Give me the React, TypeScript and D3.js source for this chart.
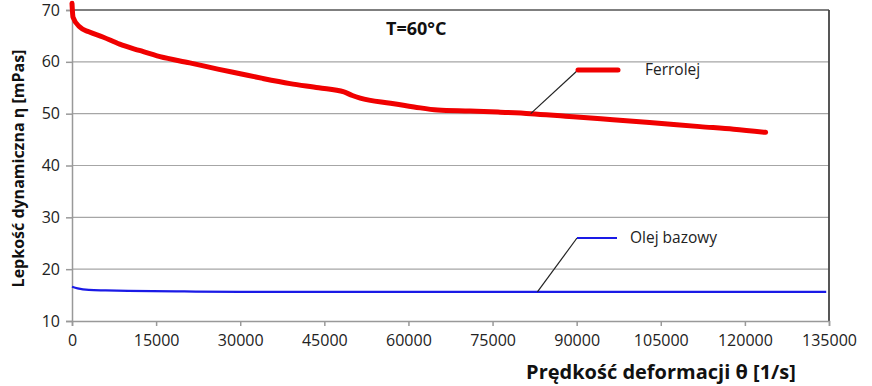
import * as React from 'react'
import { useEffect, useRef } from 'react'
import * as d3 from 'd3'

// shear rate [1/s] and viscosity [mPas]
const ferroRate = [0, 180, 1400, 3000, 5500, 8500, 12000, 15700, 21000, 26000, 30000, 34000, 38900, 44000, 48500, 50000, 51400, 56800, 61000, 65200, 71000, 76000, 81800, 88000, 94300, 103000, 112000, 118000, 123700]
const ferroVisc = [71.3, 68.6, 66.7, 65.8, 64.8, 63.4, 62.2, 61.0, 59.8, 58.6, 57.7, 56.8, 55.8, 55.0, 54.2, 53.5, 53.0, 52.0, 51.3, 50.7, 50.5, 50.3, 50.0, 49.5, 49.0, 48.3, 47.5, 47.0, 46.4]

const baseRate = [0, 1000, 3000, 6000, 10000, 20000, 30000, 60000, 90000, 120000, 134500]
const baseVisc = [16.6, 16.3, 16.0, 15.9, 15.8, 15.7, 15.6, 15.6, 15.6, 15.6, 15.6]

const xTicks = [0, 15000, 30000, 45000, 60000, 75000, 90000, 105000, 120000, 135000]
const yTicks = [10, 20, 30, 40, 50, 60, 70]

const W = 872
const H = 386
const M = { left: 72, right: 43, top: 10, bottom: 65 }
const FONT = '"Open Sans", "Liberation Sans", sans-serif'

export default function App() {
  const svgRef = useRef<SVGSVGElement>(null)

  useEffect(() => {
    if (!svgRef.current) return
    const svg = d3.select(svgRef.current)
    svg.selectAll('*').remove()

    const x = d3.scaleLinear().domain([0, 135000]).range([M.left, W - M.right])
    const y = d3.scaleLinear().domain([10, 70]).range([H - M.bottom, M.top])

    svg.append('rect').attr('width', W).attr('height', H).attr('fill', '#fff')

    // grid
    svg.append('g')
      .selectAll('line')
      .data(yTicks.slice(1))
      .join('line')
      .attr('x1', x(0)).attr('x2', x(135000))
      .attr('y1', d => y(d)).attr('y2', d => y(d))
      .attr('stroke', d => (d === 70 ? '#555' : '#a6a6a6'))
      .attr('stroke-width', d => (d === 70 ? 1.5 : 1.2))

    // right border
    svg.append('line')
      .attr('x1', x(135000)).attr('x2', x(135000))
      .attr('y1', y(70)).attr('y2', y(10))
      .attr('stroke', '#444').attr('stroke-width', 1.8)

    // y axis
    const yAxis = svg.append('g')
      .attr('transform', `translate(${M.left},0)`)
      .call(d3.axisLeft(y).tickValues(yTicks).tickSize(6).tickPadding(6))
    yAxis.select('.domain').attr('stroke', '#999').attr('stroke-width', 1.5)
    yAxis.selectAll('.tick line').attr('stroke', '#999').attr('stroke-width', 1.5)
    yAxis.selectAll('.tick text')
      .attr('font-family', FONT).attr('font-size', 16).attr('fill', '#222')

    // x axis
    const xAxis = svg.append('g')
      .attr('transform', `translate(0,${H - M.bottom})`)
      .call(d3.axisBottom(x).tickValues(xTicks).tickFormat(d3.format('d')).tickSize(5).tickPadding(9))
    xAxis.select('.domain').attr('stroke', '#999').attr('stroke-width', 1.5)
    xAxis.selectAll('.tick line').attr('stroke', '#999').attr('stroke-width', 1.5)
    xAxis.selectAll('.tick text')
      .attr('font-family', FONT).attr('font-size', 16).attr('fill', '#222')

    const line = d3.line<[number, number]>()
      .x(d => x(d[0]))
      .y(d => y(d[1]))
      .curve(d3.curveMonotoneX)

    svg.append('path')
      .datum(baseRate.map((r, i) => [r, baseVisc[i]] as [number, number]))
      .attr('d', line)
      .attr('fill', 'none')
      .attr('stroke', '#1a1ae6')
      .attr('stroke-width', 2.2)

    svg.append('path')
      .datum(ferroRate.map((r, i) => [r, ferroVisc[i]] as [number, number]))
      .attr('d', line)
      .attr('fill', 'none')
      .attr('stroke', '#f00000')
      .attr('stroke-width', 5)
      .attr('stroke-linecap', 'round')
      .attr('stroke-linejoin', 'round')

    // callouts
    const callout = (px: number, py: number, lx: number, ly: number, color: string, w: number, tx: number, label: string) => {
      svg.append('line')
        .attr('x1', x(px)).attr('y1', y(py)).attr('x2', lx).attr('y2', ly)
        .attr('stroke', '#222').attr('stroke-width', 1.2)
      svg.append('line')
        .attr('x1', lx).attr('y1', ly).attr('x2', lx + 40).attr('y2', ly)
        .attr('stroke', color).attr('stroke-width', w).attr('stroke-linecap', w > 3 ? 'round' : 'butt')
      svg.append('text')
        .attr('x', tx).attr('y', ly + 5)
        .attr('font-family', FONT).attr('font-size', 15.5).attr('fill', '#222')
        .text(label)
    }
    callout(81800, 50.0, 578, 70, '#f00000', 5, 645, 'Ferrolej')
    callout(83000, 15.6, 577, 238, '#1a1ae6', 2.2, 630, 'Olej bazowy')

    svg.append('text')
      .attr('x', 386).attr('y', 35)
      .attr('font-family', FONT).attr('font-size', 18).attr('font-weight', 'bold').attr('fill', '#111')
      .text('T=60°C')

    svg.append('text')
      .attr('x', 661).attr('y', 379)
      .attr('text-anchor', 'middle')
      .attr('font-family', FONT).attr('font-size', 20).attr('font-weight', 'bold').attr('fill', '#111')
      .text('Prędkość deformacji θ [1/s]')

    svg.append('text')
      .attr('transform', `translate(24,${y(40) + 3}) rotate(-90)`)
      .attr('text-anchor', 'middle')
      .attr('font-family', FONT).attr('font-size', 16).attr('font-weight', 'bold').attr('fill', '#111')
      .text('Lepkość dynamiczna η [mPas]')
  }, [])

  return (
    <svg ref={svgRef} width={W} height={H} style={{ position: 'absolute', left: 0, top: 0 }} />
  )
}
